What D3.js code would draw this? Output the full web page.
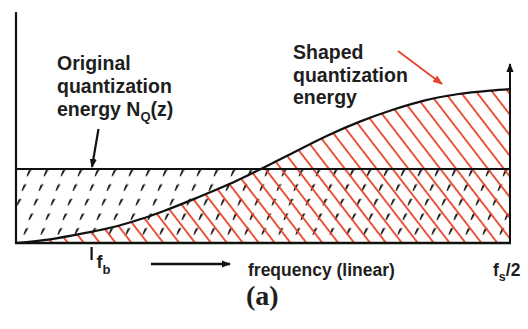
<!DOCTYPE html>
<html>
<head>
<meta charset="utf-8">
<script src="https://cdn.jsdelivr.net/npm/d3@7"></script>
<style>
  html, body { margin: 0; padding: 0; background: #fff; }
  svg { display: block; }
  text { font-family: "Liberation Sans", Arial, sans-serif; font-weight: bold; fill: #1e1e1e; }
</style>
</head>
<body>
<svg id="chart" width="528" height="329"></svg>
<script>
// Normalised frequency (0 .. fs/2) and the noise-shaped quantization energy
const freq   = [0, 0.069, 0.136, 0.206, 0.251, 0.298, 0.366, 0.433, 0.480, 0.514, 0.561, 0.630, 0.696, 0.763, 0.824, 0.893, 0.960, 1.0];
const shaped = [0, 0.05, 0.13, 0.23, 0.32, 0.43, 0.61, 0.80, 0.95, 1.06, 1.22, 1.45, 1.64, 1.80, 1.92, 2.01, 2.06, 2.08];
// Flat (unshaped) quantization energy level
const originalLevel = 1;
// Signal band edge
const fb = 0.153;
// Heights of the two vertical axes
const leftAxisTop = 3.12;
const rightAxisTop = 2.42;

const svg = d3.select("#chart");
const x = d3.scaleLinear().domain([0, 1]).range([16, 510]);
const y = d3.scaleLinear().domain([0, 1]).range([243, 169]);

const RED = "#e8442c";
const pts = freq.map((f, i) => ({ f, v: shaped[i] }));

const defs = svg.append("defs");

// slanted dashes for the original energy
const dashPat = defs.append("pattern")
  .attr("id", "dashes")
  .attr("patternUnits", "userSpaceOnUse")
  .attr("width", 17).attr("height", 14.6)
  .attr("patternTransform", "translate(29,169) skewX(-19)");
dashPat.append("line")
  .attr("x1", 0.1).attr("y1", 7.2).attr("x2", 1.7).attr("y2", 0.6)
  .attr("stroke", "#111").attr("stroke-width", 2.1).attr("stroke-linecap", "butt");

// red diagonal hatching for the shaped energy
const redPat = defs.append("pattern")
  .attr("id", "redHatch")
  .attr("patternUnits", "userSpaceOnUse")
  .attr("width", 12.6).attr("height", 10)
  .attr("patternTransform", "translate(68,243) rotate(-37.6)");
redPat.append("line")
  .attr("x1", 0).attr("y1", -1).attr("x2", 0).attr("y2", 11)
  .attr("stroke", RED).attr("stroke-width", 1.8);
redPat.append("line")
  .attr("x1", 12.6).attr("y1", -1).attr("x2", 12.6).attr("y2", 11)
  .attr("stroke", RED).attr("stroke-width", 1.8);

const markerArrow = (id, color, size) => {
  defs.append("marker")
    .attr("id", id)
    .attr("viewBox", "0 0 10 10")
    .attr("refX", 9).attr("refY", 5)
    .attr("markerUnits", "userSpaceOnUse")
    .attr("markerWidth", size).attr("markerHeight", size)
    .attr("orient", "auto")
    .append("path")
    .attr("d", "M0,1 L10,5 L0,9 Z")
    .attr("fill", color);
};
markerArrow("arrowBlack", "#111", 9);
markerArrow("arrowRed", RED, 10);
markerArrow("arrowAxis", "#111", 9);

// original energy band
const flatArea = d3.area()
  .x(d => x(d))
  .y0(y(0))
  .y1(y(originalLevel));
svg.append("path")
  .datum([0, 1])
  .attr("d", flatArea)
  .attr("fill", "url(#dashes)");

// shaped energy region
const shapedArea = d3.area()
  .curve(d3.curveMonotoneX)
  .x(d => x(d.f))
  .y0(y(0))
  .y1(d => y(d.v));
svg.append("path")
  .datum(pts)
  .attr("d", shapedArea)
  .attr("fill", "url(#redHatch)");

// flat level line
svg.append("line")
  .attr("x1", x(0)).attr("x2", x(1))
  .attr("y1", y(originalLevel)).attr("y2", y(originalLevel))
  .attr("stroke", "#111").attr("stroke-width", 2);

// shaped curve
const shapedLine = d3.line()
  .curve(d3.curveMonotoneX)
  .x(d => x(d.f))
  .y(d => y(d.v));
svg.append("path")
  .datum(pts)
  .attr("d", shapedLine)
  .attr("fill", "none")
  .attr("stroke", "#111").attr("stroke-width", 2.2);

// axes
svg.append("line")
  .attr("x1", x(0)).attr("x2", x(0))
  .attr("y1", y(0)).attr("y2", y(leftAxisTop))
  .attr("stroke", "#111").attr("stroke-width", 2.2);
svg.append("line")
  .attr("x1", x(0) - 1).attr("x2", x(1) + 1)
  .attr("y1", y(0)).attr("y2", y(0))
  .attr("stroke", "#111").attr("stroke-width", 2.4);
svg.append("line")
  .attr("x1", x(1)).attr("x2", x(1))
  .attr("y1", y(0) + 1).attr("y2", y(rightAxisTop))
  .attr("stroke", "#111").attr("stroke-width", 2)
  .attr("marker-end", "url(#arrowAxis)");

// band edge tick
svg.append("line")
  .attr("x1", x(fb)).attr("x2", x(fb))
  .attr("y1", y(0) + 4).attr("y2", y(0) + 17)
  .attr("stroke", "#111").attr("stroke-width", 2.2);

// annotation arrows
svg.append("line")
  .attr("x1", 98.5).attr("y1", 129)
  .attr("x2", 92).attr("y2", 167)
  .attr("stroke", "#111").attr("stroke-width", 2.2)
  .attr("marker-end", "url(#arrowBlack)");
svg.append("line")
  .attr("x1", 398).attr("y1", 51)
  .attr("x2", 442).attr("y2", 84)
  .attr("stroke", RED).attr("stroke-width", 1.8)
  .attr("marker-end", "url(#arrowRed)");
svg.append("line")
  .attr("x1", 151).attr("y1", 264)
  .attr("x2", 230).attr("y2", 264)
  .attr("stroke", "#111").attr("stroke-width", 2.6)
  .attr("marker-end", "url(#arrowBlack)");

// labels
const left = svg.append("text").attr("font-size", 19.5);
left.append("tspan").attr("x", 57).attr("y", 70).text("Original");
left.append("tspan").attr("x", 57).attr("y", 93).text("quantization");
left.append("tspan").attr("x", 57).attr("y", 116).text("energy N");
left.append("tspan").attr("font-size", 13).attr("dy", 5).text("Q");
left.append("tspan").attr("dy", -5).text("(z)");

const right = svg.append("text").attr("font-size", 19.5);
right.append("tspan").attr("x", 293).attr("y", 59).text("Shaped");
right.append("tspan").attr("x", 293).attr("y", 82).text("quantization");
right.append("tspan").attr("x", 293).attr("y", 104).text("energy");

const fbLabel = svg.append("text").attr("x", x(fb) + 5).attr("y", 268).attr("font-size", 18);
fbLabel.append("tspan").text("f");
fbLabel.append("tspan").attr("font-size", 13).attr("dy", 6).text("b");

svg.append("text")
  .attr("x", 248).attr("y", 276)
  .attr("font-size", 17.5)
  .text("frequency (linear)");

const fsLabel = svg.append("text").attr("x", 493).attr("y", 276).attr("font-size", 17.5);
fsLabel.append("tspan").text("f");
fsLabel.append("tspan").attr("font-size", 12.5).attr("dy", 5).text("s");
fsLabel.append("tspan").attr("dy", -5).text("/2");

svg.append("text")
  .attr("x", 246).attr("y", 305)
  .attr("font-size", 28)
  .style("font-family", "'Liberation Serif', 'Times New Roman', serif")
  .text("(a)");
</script>
</body>
</html>
